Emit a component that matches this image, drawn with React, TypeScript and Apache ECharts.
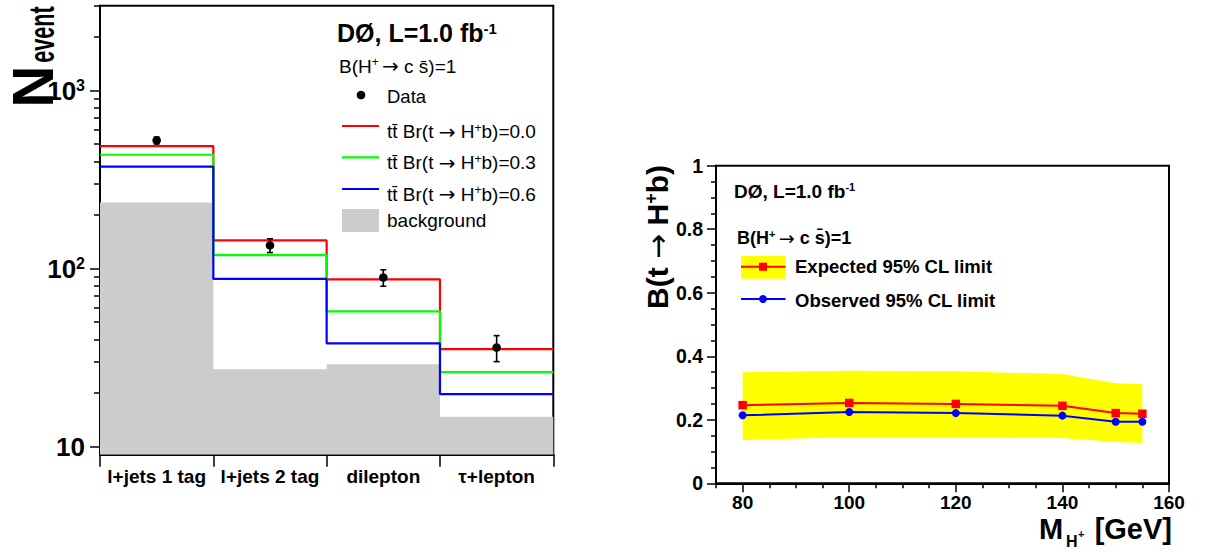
import React, { useEffect, useRef } from "react";
import * as echarts from "echarts";

// ---------- Left panel: event yields per channel ----------
const channels = ["l+jets 1 tag", "l+jets 2 tag", "dilepton", "τ+lepton"];
const dataCounts = [525, 135, 89, 36];
const dataErrors = [23, 12, 9.4, 6];
const ttbarBr00 = [488, 144, 87, 35.3];
const ttbarBr03 = [436, 119, 57.5, 26.2];
const ttbarBr06 = [374, 87.5, 38, 19.7];
const background = [235, 27.2, 29, 14.7];
const logMajorTicks = [10, 100, 1000];
const logMinorTicks = [20, 30, 40, 50, 60, 70, 80, 90, 200, 300, 400, 500, 600, 700, 800, 900, 2000, 3000];

// ---------- Right panel: limits vs charged Higgs mass ----------
const masses = [80, 100, 120, 140, 150, 155];
const expectedLimit = [0.246, 0.253, 0.25, 0.244, 0.221, 0.219];
const observedLimit = [0.214, 0.2245, 0.221, 0.213, 0.194, 0.194];
const bandUpper = [0.3495, 0.3546, 0.3526, 0.3441, 0.3149, 0.3117];
const bandLower = [0.1363, 0.1448, 0.1436, 0.1426, 0.13, 0.1269];
const massMajorTicks = [80, 100, 120, 140, 160];
const massMinorTicks = [75, 85, 90, 95, 105, 110, 115, 125, 130, 135, 145, 150, 155];

const FF = '"Liberation Sans", Arial, Helvetica, sans-serif';
const AF = '"DejaVu Sans", sans-serif';

function stepData(values: number[]) {
  const pts = values.map((v, i) => [i, v]);
  pts.push([values.length, values[values.length - 1]]);
  return pts;
}

export default function App() {
  const ref = useRef<HTMLDivElement>(null);

  useEffect(() => {
    if (!ref.current) return;
    const chart = echarts.init(ref.current, null, { renderer: "svg" });

    const black = "#000";
    const histLine = (vals: number[], color: string, z: number) => ({
      type: "line",
      xAxisIndex: 0,
      yAxisIndex: 0,
      step: "end",
      data: stepData(vals),
      symbol: "none",
      lineStyle: { color, width: 2.2 },
      z,
      silent: true,
    });

    const plainText = (text: string, size: number, weight: string, align = "left", lineHeight?: number) => ({
      text,
      fill: black,
      font: `${weight} ${size}px ${FF}`,
      align,
      verticalAlign: "middle",
      lineHeight: lineHeight ?? Math.round(size * 1.2),
    });

    const rich = (size: number, sup: number, weight: string, arrow: number) => ({
      r: { fontSize: size, fontFamily: FF, fontWeight: weight, color: black },
      p: { fontSize: sup, fontFamily: FF, fontWeight: weight, color: black, verticalAlign: "top" },
      a: { fontSize: arrow, fontFamily: AF, fontWeight: "normal", color: black },
    });

    const option: any = {
      animation: false,
      backgroundColor: "#fff",
      grid: [
        { left: 100, top: 5.7, width: 453.3, height: 449, show: true, borderColor: black, borderWidth: 2, backgroundColor: "transparent" },
        { left: 716, top: 165.7, width: 453, height: 317.6, show: true, borderColor: black, borderWidth: 2, backgroundColor: "transparent" },
      ],
      xAxis: [
        { type: "value", gridIndex: 0, min: 0, max: 4, show: false, position: "top" },
        {
          type: "category",
          gridIndex: 0,
          data: channels,
          boundaryGap: true,
          position: "bottom",
          axisLine: { show: true, lineStyle: { color: black, width: 2 } },
          axisTick: { show: true, length: 12, lineStyle: { color: black, width: 1.5 } },
          axisLabel: { color: black, fontFamily: FF, fontWeight: "bold", fontSize: 19, margin: 12, interval: 0 },
          splitLine: { show: false },
        },
        {
          type: "value",
          gridIndex: 1,
          min: 75,
          max: 160,
          position: "bottom",
          axisLine: { show: true, lineStyle: { color: black, width: 2 } },
          axisTick: { show: true, length: 9, customValues: massMajorTicks, lineStyle: { color: black, width: 1.5 } },
          axisLabel: { customValues: massMajorTicks, color: black, fontFamily: FF, fontWeight: "bold", fontSize: 19, margin: 10, lineHeight: 19 },
          splitLine: { show: false },
        },
        {
          type: "value",
          gridIndex: 1,
          min: 75,
          max: 160,
          position: "bottom",
          axisLine: { show: false },
          axisTick: { show: true, length: 5, customValues: massMinorTicks, lineStyle: { color: black, width: 1.5 } },
          axisLabel: { show: false },
          splitLine: { show: false },
        },
      ],
      yAxis: [
        {
          type: "log",
          logBase: 10,
          gridIndex: 0,
          min: 9,
          max: 3000,
          position: "left",
          axisLine: { show: true, lineStyle: { color: black, width: 2 } },
          axisTick: { show: true, length: 10, customValues: logMajorTicks, lineStyle: { color: black, width: 1.5 } },
          axisLabel: {
            customValues: logMajorTicks,
            margin: 15,
            formatter: (v: number) => {
              const p = Math.round(Math.log10(v));
              return p === 1 ? "{b|10}" : `{b|10}{s|${p}}`;
            },
            rich: {
              b: { fontSize: 26, fontWeight: "bold", fontFamily: FF, color: black },
              s: { fontSize: 16, fontWeight: "bold", fontFamily: FF, color: black, verticalAlign: "top" },
            },
          },
          splitLine: { show: false },
        },
        {
          type: "log",
          logBase: 10,
          gridIndex: 0,
          min: 9,
          max: 3000,
          position: "left",
          axisLine: { show: false },
          axisTick: { show: true, length: 6, customValues: logMinorTicks, lineStyle: { color: black, width: 1.5 } },
          axisLabel: { show: false },
          splitLine: { show: false },
        },
        {
          type: "value",
          gridIndex: 1,
          min: 0,
          max: 1,
          interval: 0.2,
          position: "left",
          axisLine: { show: true, lineStyle: { color: black, width: 2 } },
          axisTick: { show: true, length: 9, lineStyle: { color: black, width: 1.5 } },
          minorTick: { show: true, splitNumber: 4, length: 5, lineStyle: { color: black, width: 1.5 } },
          axisLabel: { color: black, fontFamily: FF, fontWeight: "bold", fontSize: 19.5, margin: 13 },
          splitLine: { show: false },
          minorSplitLine: { show: false },
        },
      ],
      series: [
        {
          type: "line",
          xAxisIndex: 0,
          yAxisIndex: 0,
          step: "end",
          data: stepData(background),
          symbol: "none",
          lineStyle: { width: 0, color: "#cccccc" },
          areaStyle: { color: "#cccccc", opacity: 1, origin: "start" },
          z: 1,
          silent: true,
        },
        histLine(ttbarBr00, "#ff0000", 2),
        histLine(ttbarBr03, "#00ff00", 3),
        histLine(ttbarBr06, "#0000ff", 4),
        {
          type: "custom",
          xAxisIndex: 0,
          yAxisIndex: 0,
          z: 5,
          encode: { x: 0, y: 1 },
          data: dataCounts.map((v, i) => [i + 0.5, v, dataErrors[i]]),
          renderItem: (params: any, api: any) => {
            const x = api.value(0);
            const y = api.value(1);
            const e = api.value(2);
            const c = api.coord([x, y]);
            const hi = api.coord([x, y + e]);
            const lo = api.coord([x, y - e]);
            const st = { stroke: black, lineWidth: 1.6 };
            return {
              type: "group",
              children: [
                { type: "line", shape: { x1: c[0], y1: hi[1], x2: c[0], y2: lo[1] }, style: st },
                { type: "line", shape: { x1: c[0] - 3, y1: hi[1], x2: c[0] + 3, y2: hi[1] }, style: st },
                { type: "line", shape: { x1: c[0] - 3, y1: lo[1], x2: c[0] + 3, y2: lo[1] }, style: st },
                { type: "circle", shape: { cx: c[0], cy: c[1], r: 4.3 }, style: { fill: black } },
              ],
            };
          },
        },
        {
          // yellow expected-limit band, one polygon through upper then lower edges
          type: "custom",
          xAxisIndex: 2,
          yAxisIndex: 2,
          z: 1,
          silent: true,
          encode: { x: 0, y: 1 },
          data: masses.map((m, i) => [m, bandLower[i], bandUpper[i]]),
          renderItem: (params: any, api: any) => {
            if (params.dataIndex !== 0) return null;
            const upper = masses.map((m, i) => api.coord([m, bandUpper[i]]));
            const lower = masses.map((m, i) => api.coord([m, bandLower[i]])).reverse();
            return {
              type: "polygon",
              shape: { points: upper.concat(lower) },
              style: { fill: "#ffff00", stroke: "none" },
            };
          },
        },
        {
          type: "line",
          xAxisIndex: 2,
          yAxisIndex: 2,
          data: masses.map((m, i) => [m, expectedLimit[i]]),
          symbol: "rect",
          symbolSize: 8.5,
          lineStyle: { color: "#ff0000", width: 2 },
          itemStyle: { color: "#ff0000" },
          z: 3,
        },
        {
          type: "line",
          xAxisIndex: 2,
          yAxisIndex: 2,
          data: masses.map((m, i) => [m, observedLimit[i]]),
          symbol: "circle",
          symbolSize: 8,
          lineStyle: { color: "#0000ff", width: 2 },
          itemStyle: { color: "#0000ff" },
          z: 3,
        },
      ],
      graphic: [
        // Left y-axis title N_event
        { type: "text", x: 32, y: 86.5, rotation: Math.PI / 2, style: { text: "N", fill: black, font: `bold 58px ${FF}`, align: "center", verticalAlign: "middle" } },
        { type: "text", x: 41, y: 34.5, rotation: Math.PI / 2, scaleX: 0.6, style: { text: "event", fill: black, font: `bold 36px ${FF}`, align: "center", verticalAlign: "middle" } },
        // Left title
        { type: "text", x: 337, y: 33, style: { text: "{r|DØ, L=1.0 fb}{p|-1}", rich: rich(25, 15, "bold", 25), align: "left", verticalAlign: "middle" } },
        { type: "text", x: 339, y: 66, style: { text: "{r|B(H}{p|+} {a|→}{r| c s\u0304)=1}", rich: rich(19, 12, "normal", 20), align: "left", verticalAlign: "middle" } },
        // Left legend
        { type: "circle", shape: { cx: 361, cy: 95, r: 4.3 }, style: { fill: black } },
        { type: "text", x: 387, y: 96.5, style: plainText("Data", 18.5, "normal") },
        { type: "line", shape: { x1: 342, y1: 126, x2: 379, y2: 126 }, style: { stroke: "#ff0000", lineWidth: 2.2 } },
        { type: "line", shape: { x1: 342, y1: 157.3, x2: 379, y2: 157.3 }, style: { stroke: "#00ff00", lineWidth: 2.2 } },
        { type: "line", shape: { x1: 342, y1: 189, x2: 379, y2: 189 }, style: { stroke: "#0000ff", lineWidth: 2.2 } },
        { type: "rect", shape: { x: 342, y: 209, width: 37, height: 23 }, style: { fill: "#cccccc" } },
        { type: "text", x: 387, y: 131.5, style: { text: "{r|tt\u0304 Br(t }{a|→}{r| H}{p|+}{r|b)=0.0}", rich: rich(19, 12, "normal", 20), align: "left", verticalAlign: "middle" } },
        { type: "text", x: 387, y: 162.5, style: { text: "{r|tt\u0304 Br(t }{a|→}{r| H}{p|+}{r|b)=0.3}", rich: rich(19, 12, "normal", 20), align: "left", verticalAlign: "middle" } },
        { type: "text", x: 387, y: 194, style: { text: "{r|tt\u0304 Br(t }{a|→}{r| H}{p|+}{r|b)=0.6}", rich: rich(19, 12, "normal", 20), align: "left", verticalAlign: "middle" } },
        { type: "text", x: 387, y: 220, style: plainText("background", 19, "normal") },

        // Right y-axis title
        { type: "text", x: 657, y: 237, rotation: Math.PI / 2, style: { text: "{r|B(t }{a|→}{r| H}{p|+}{r|b)}", rich: rich(30, 18, "bold", 30), align: "center", verticalAlign: "middle" } },
        // Right x-axis title M_{H+} [GeV]
        { type: "text", x: 1039, y: 529, style: plainText("M", 29, "bold", "left", 22) },
        { type: "text", x: 1066, y: 541, style: plainText("H", 16, "bold", "left", 14) },
        { type: "text", x: 1078, y: 534, style: plainText("+", 11, "bold", "left", 10) },
        { type: "text", x: 1172, y: 529, style: plainText("[GeV]", 29, "bold", "right", 22) },
        // Right title and legend
        { type: "text", x: 734, y: 191, style: { text: "{r|DØ, L=1.0 fb}{p|-1}", rich: rich(19, 11, "bold", 19), align: "left", verticalAlign: "middle" } },
        { type: "text", x: 737, y: 238, style: { text: "{r|B(H}{p|+} {a|→}{r| c s\u0304)=1}", rich: rich(18, 11, "bold", 19), align: "left", verticalAlign: "middle" } },
        { type: "rect", shape: { x: 741, y: 256, width: 44.5, height: 22.7 }, style: { fill: "#ffff00" } },
        { type: "line", shape: { x1: 741, y1: 266.7, x2: 785.5, y2: 266.7 }, style: { stroke: "#ff0000", lineWidth: 2 } },
        { type: "rect", shape: { x: 759, y: 262.7, width: 8, height: 8 }, style: { fill: "#ff0000" } },
        { type: "text", x: 795, y: 266.5, style: plainText("Expected 95% CL limit", 18.5, "bold") },
        { type: "line", shape: { x1: 741, y1: 299, x2: 785.5, y2: 299 }, style: { stroke: "#0000ff", lineWidth: 2 } },
        { type: "circle", shape: { cx: 763, cy: 299, r: 4 }, style: { fill: "#0000ff" } },
        { type: "text", x: 795, y: 300, style: plainText("Observed 95% CL limit", 18.5, "bold") },
      ],
    };

    chart.setOption(option);
    return () => chart.dispose();
  }, []);

  return <div ref={ref} style={{ position: "absolute", left: 0, top: 0, width: 1207, height: 552 }} />;
}
